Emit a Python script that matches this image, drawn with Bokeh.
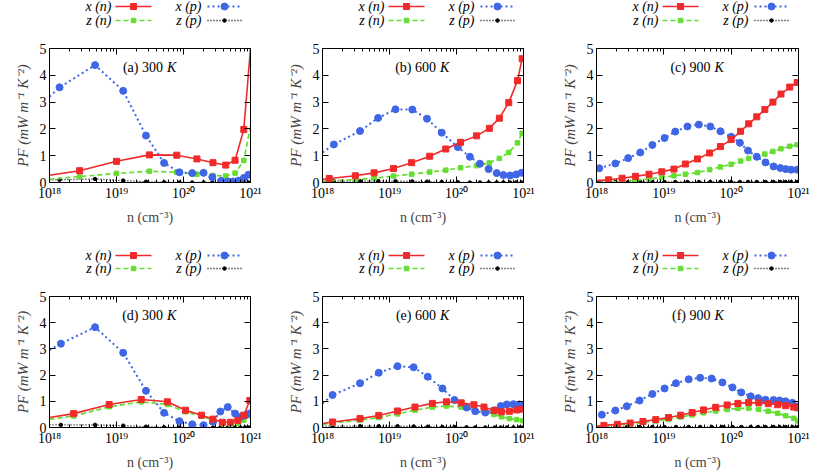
from bokeh.plotting import figure
from bokeh.models import Range1d, FixedTicker, CustomJSTickFormatter, LogAxis, LinearAxis, Label
from bokeh.layouts import column, row
from bokeh.core.properties import value
from bokeh.embed import file_html
from bokeh.resources import INLINE

FONT = "Liberation Serif"
RED = "#f02a2a"
GREEN = "#66dd33"
BLUE = "#3f66e6"
BLACK = "#000000"

# ---------------- data (log10 of n in cm^-3, PF in mW m^-1 K^-2) ----------------
legend_labels = ["x (n)", "z (n)", "x (p)", "z (p)"]
panel_titles = ["(a) 300", "(b) 600", "(c) 900", "(d) 300", "(e) 600", "(f) 900"]
x_ticks = [1e18, 1e19, 1e20, 1e21]
y_ticks = [0, 1, 2, 3, 4, 5]

# (a) 300 K
a_n_logn = [18.0, 18.45, 19.0, 19.49, 19.9, 20.2, 20.44, 20.63, 20.77, 20.9, 21.0]
a_xn = [0.27, 0.44, 0.79, 1.03, 1.02, 0.88, 0.74, 0.65, 0.83, 1.98, 5.0]
a_zn = [0.12, 0.22, 0.34, 0.42, 0.38, 0.31, 0.26, 0.24, 0.35, 0.82, 2.1]
a_p_logn = [18.0, 18.15, 18.68, 19.1, 19.44, 19.71, 19.94, 20.13, 20.3, 20.43, 20.56, 20.66, 20.74, 20.82, 20.9, 20.97]
a_xp = [3.2, 3.55, 4.38, 3.42, 1.75, 0.73, 0.38, 0.35, 0.36, 0.2, 0.06, 0.04, 0.04, 0.07, 0.17, 0.29]
a_zp = [0.1, 0.1, 0.13, 0.07, 0.03, 0.01, 0.0, 0.0, 0.0, 0.0, 0.0, 0.0, 0.0, 0.0, 0.0, 0.0]

# (b) 600 K
b_n_logn = [18.0, 18.1, 18.49, 18.77, 19.06, 19.33, 19.6, 19.84, 20.06, 20.3, 20.49, 20.64, 20.78, 20.91, 20.98]
b_xn = [0.12, 0.15, 0.25, 0.36, 0.52, 0.74, 0.98, 1.25, 1.5, 1.74, 2.02, 2.4, 2.98, 3.8, 4.62]
b_zn = [0.05, 0.07, 0.1, 0.16, 0.24, 0.31, 0.39, 0.46, 0.55, 0.63, 0.73, 0.9, 1.12, 1.48, 1.84]
b_p_logn = [18.0, 18.17, 18.56, 18.83, 19.09, 19.34, 19.56, 19.78, 20.02, 20.2, 20.35, 20.48, 20.6, 20.7, 20.8, 20.89, 20.97]
b_xp = [1.12, 1.42, 1.92, 2.41, 2.73, 2.72, 2.38, 1.86, 1.32, 0.96, 0.7, 0.5, 0.35, 0.28, 0.26, 0.3, 0.36]
b_zp = [0.05, 0.05, 0.05, 0.05, 0.05, 0.04, 0.03, 0.02, 0.01, 0.0, 0.0, 0.0, 0.0, 0.0, 0.0, 0.0, 0.0]

# (c) 900 K
c_n_logn = [18.0, 18.18, 18.38, 18.58, 18.78, 18.97, 19.15, 19.32, 19.5, 19.68, 19.84, 20.0, 20.14, 20.26, 20.38, 20.5, 20.62, 20.74, 20.87, 20.98]
c_xn = [0.07, 0.1, 0.16, 0.23, 0.31, 0.4, 0.5, 0.69, 0.88, 1.1, 1.34, 1.6, 1.91, 2.19, 2.45, 2.72, 3.0, 3.3, 3.56, 3.73]
c_zn = [0.0, 0.02, 0.04, 0.08, 0.14, 0.19, 0.25, 0.31, 0.37, 0.48, 0.58, 0.68, 0.8, 0.9, 0.98, 1.06, 1.16, 1.26, 1.35, 1.41]
c_p_logn = [18.04, 18.28, 18.47, 18.65, 18.83, 19.01, 19.17, 19.35, 19.52, 19.69, 19.84, 20.0, 20.13, 20.25, 20.38, 20.51, 20.63, 20.73, 20.81, 20.89, 20.98]
c_xp = [0.53, 0.71, 0.91, 1.12, 1.4, 1.66, 1.9, 2.09, 2.16, 2.09, 1.91, 1.71, 1.48, 1.19, 0.96, 0.75, 0.6, 0.54, 0.5, 0.48, 0.48]
c_zp = [0.02, 0.02, 0.02, 0.02, 0.02, 0.02, 0.02, 0.02, 0.02, 0.02, 0.02, 0.02, 0.02, 0.02, 0.02, 0.02, 0.02, 0.02, 0.02, 0.02, 0.02]

# (d) 300 K
d_n_logn = [18.0, 18.36, 18.89, 19.37, 19.76, 20.03, 20.27, 20.44, 20.58, 20.7, 20.81, 20.9, 20.99]
d_xn = [0.38, 0.53, 0.88, 1.07, 0.98, 0.66, 0.47, 0.32, 0.2, 0.2, 0.27, 0.47, 1.03]
d_zn = [0.31, 0.44, 0.79, 0.98, 0.88, 0.6, 0.43, 0.28, 0.15, 0.13, 0.15, 0.28, 0.46]
d_p_logn = [18.0, 18.17, 18.68, 19.1, 19.44, 19.71, 19.94, 20.13, 20.3, 20.44, 20.55, 20.66, 20.77, 20.85, 20.92, 20.98]
d_xp = [2.95, 3.2, 3.83, 2.85, 1.4, 0.56, 0.24, 0.12, 0.09, 0.22, 0.61, 0.78, 0.53, 0.4, 0.46, 0.53]
d_zp = [0.1, 0.1, 0.1, 0.07, 0.03, 0.01, 0.0, 0.0, 0.0, 0.0, 0.0, 0.0, 0.0, 0.0, 0.0, 0.0]

# (e) 600 K
e_n_logn = [18.0, 18.15, 18.56, 18.84, 19.12, 19.38, 19.64, 19.85, 20.07, 20.26, 20.41, 20.56, 20.67, 20.79, 20.9, 20.99]
e_xn = [0.15, 0.21, 0.34, 0.46, 0.63, 0.78, 0.92, 0.98, 0.94, 0.87, 0.78, 0.65, 0.6, 0.62, 0.67, 0.7]
e_zn = [0.12, 0.17, 0.28, 0.38, 0.52, 0.66, 0.78, 0.82, 0.78, 0.72, 0.62, 0.5, 0.41, 0.34, 0.3, 0.26]
e_p_logn = [18.0, 18.15, 18.56, 18.84, 19.12, 19.36, 19.57, 19.79, 19.97, 20.15, 20.28, 20.43, 20.57, 20.66, 20.75, 20.85, 20.94, 20.99]
e_xp = [0.92, 1.24, 1.69, 2.09, 2.34, 2.3, 1.94, 1.49, 1.05, 0.76, 0.62, 0.57, 0.66, 0.82, 0.88, 0.89, 0.88, 0.85]
e_zp = [0.05, 0.05, 0.05, 0.05, 0.05, 0.04, 0.03, 0.02, 0.02, 0.01, 0.0, 0.0, 0.0, 0.0, 0.0, 0.0, 0.0, 0.0]

# (f) 900 K
f_n_logn = [18.0, 18.11, 18.31, 18.5, 18.69, 18.88, 19.07, 19.25, 19.42, 19.59, 19.77, 19.94, 20.1, 20.26, 20.41, 20.55, 20.69, 20.81, 20.93, 20.99]
f_xn = [0.05, 0.08, 0.12, 0.17, 0.23, 0.3, 0.38, 0.47, 0.57, 0.67, 0.77, 0.86, 0.92, 0.95, 0.94, 0.91, 0.87, 0.83, 0.78, 0.75]
f_zn = [0.03, 0.05, 0.09, 0.13, 0.19, 0.25, 0.32, 0.4, 0.48, 0.56, 0.63, 0.69, 0.73, 0.73, 0.69, 0.62, 0.54, 0.45, 0.35, 0.25]
f_p_logn = [18.08, 18.28, 18.45, 18.64, 18.83, 19.01, 19.18, 19.37, 19.54, 19.71, 19.87, 20.02, 20.15, 20.29, 20.4, 20.51, 20.63, 20.72, 20.81, 20.91, 20.99]
f_xp = [0.49, 0.65, 0.81, 1.03, 1.28, 1.49, 1.69, 1.84, 1.9, 1.87, 1.72, 1.53, 1.34, 1.19, 1.12, 1.06, 1.05, 1.03, 1.0, 0.94, 0.8]
f_zp = [0.02, 0.02, 0.02, 0.02, 0.02, 0.02, 0.02, 0.02, 0.02, 0.02, 0.02, 0.02, 0.02, 0.02, 0.02, 0.02, 0.02, 0.02, 0.02, 0.02, 0.02]

panels = [
    (a_n_logn, a_xn, a_zn, a_p_logn, a_xp, a_zp),
    (b_n_logn, b_xn, b_zn, b_p_logn, b_xp, b_zp),
    (c_n_logn, c_xn, c_zn, c_p_logn, c_xp, c_zp),
    (d_n_logn, d_xn, d_zn, d_p_logn, d_xp, d_zp),
    (e_n_logn, e_xn, e_zn, e_p_logn, e_xp, e_zp),
    (f_n_logn, f_xn, f_zn, f_p_logn, f_xp, f_zp),
]

# series styles: color, dash, line width, marker, marker size
STY = [
    (RED, "solid", 1.6, "square", 6),
    (GREEN, "5 3", 1.7, "square", 4.5),
    (BLUE, "2 3", 2.0, "circle", 7),
    (BLACK, "1 2", 1.3, "circle", 3.5),
]

minor = []
for d in (18, 19, 20):
    for k in range(2, 10):
        minor.append(k * 10.0 ** d)

SUP_CODE = """
const s = {'0':'\u2070','1':'\u00b9','2':'\u00b2','3':'\u00b3','4':'\u2074','5':'\u2075','6':'\u2076','7':'\u2077','8':'\u2078','9':'\u2079','-':'\u207b'};
const e = Math.round(Math.log10(tick));
return '10' + String(e).split('').map(c => s[c]).join('');
"""

# layout (pixels)
CELL_W = [273, 273, 265]
BL = [49, 49, 50]
BR = [23, 23, 13]
LEG_H = 30
LEG_ROWS = [[24, 10], [23, 10]]
MAIN_H = [218, 194]
BT = [18, 18]
BB = [66, 43]


def style_axis(ax, labels=True):
    ax.axis_line_color = "black"
    ax.axis_line_width = 1
    ax.major_tick_in = 6
    ax.major_tick_out = 0
    ax.minor_tick_in = 3
    ax.minor_tick_out = 0
    ax.major_tick_line_color = "black"
    ax.minor_tick_line_color = "black"
    ax.major_label_text_font = FONT
    ax.major_label_text_color = "black"
    ax.major_label_standoff = 3
    if labels:
        ax.major_label_text_font_size = "14px"
    else:
        ax.major_label_text_font_size = "0px"


def make_panel(idx):
    col = idx % 3
    r = idx // 3
    p = figure(width=CELL_W[col], height=MAIN_H[r], x_axis_type="log",
               x_range=Range1d(1e18, 1e21), y_range=Range1d(0, 5),
               toolbar_location=None, output_backend="svg",
               min_border_left=BL[col], min_border_right=BR[col],
               min_border_top=BT[r], min_border_bottom=BB[r])
    p.grid.visible = False
    p.outline_line_color = "black"
    p.outline_line_width = 1
    p.background_fill_color = "white"
    p.border_fill_color = "white"

    xt = FixedTicker(ticks=x_ticks, minor_ticks=minor)
    yt = FixedTicker(ticks=y_ticks, minor_ticks=[])
    p.xaxis.ticker = xt
    p.xaxis.formatter = CustomJSTickFormatter(code=SUP_CODE)
    p.yaxis.ticker = yt
    style_axis(p.xaxis[0])
    style_axis(p.yaxis[0])
    p.xaxis.axis_label = "n (cm\u207b\u00b3)"
    p.xaxis.axis_label_text_font = FONT
    p.xaxis.axis_label_text_font_size = "14px"
    p.xaxis.axis_label_text_font_style = "normal"
    p.xaxis.axis_label_standoff = 6
    p.yaxis.axis_label = "PF (mW m\u207b\u00b9 K\u207b\u00b2)"
    p.yaxis.axis_label_text_font = FONT
    p.yaxis.axis_label_text_font_size = "15px"
    p.yaxis.axis_label_text_font_style = "italic"
    p.yaxis.axis_label_standoff = 6

    top = LogAxis(ticker=xt, formatter=CustomJSTickFormatter(code="return '';"))
    style_axis(top, labels=False)
    p.add_layout(top, "above")
    right = LinearAxis(ticker=yt, formatter=CustomJSTickFormatter(code="return '';"))
    style_axis(right, labels=False)
    p.add_layout(right, "right")

    n_logn, xn, zn, p_logn, xp, zp = panels[idx]
    series = [(n_logn, xn), (n_logn, zn), (p_logn, xp), (p_logn, zp)]
    # draw in order z(p), z(n), x(p), x(n) so red sits on top
    for si in (3, 1, 2, 0):
        logn, ys = series[si]
        color, dash, lw, mk, ms = STY[si]
        xs = [10.0 ** v for v in logn]
        p.line(xs, ys, line_color=color, line_dash=dash, line_width=lw)
        mx = [x for x, v in zip(xs, logn) if 18.0 < v < 21.0]
        my = [y for y, v in zip(ys, logn) if 18.0 < v < 21.0]
        p.scatter(mx, my, marker=mk, size=ms, fill_color=color, line_color=color)

    p.add_layout(Label(x=10 ** 19.5, y=5, x_offset=13, y_offset=-19, text=panel_titles[idx],
                       text_align="right", text_baseline="middle", text_font=FONT,
                       text_font_size="14px", text_color="black"))
    p.add_layout(Label(x=10 ** 19.5, y=5, x_offset=17, y_offset=-19, text="K",
                       text_align="left", text_baseline="middle", text_font=FONT,
                       text_font_style="italic", text_font_size="14px", text_color="black"))
    return p


def make_legend(col, r):
    w = CELL_W[col]
    fl = BL[col]
    f = figure(width=w, height=LEG_H, x_range=Range1d(0, w), y_range=Range1d(0, LEG_H),
               x_axis_type=None, y_axis_type=None, toolbar_location=None,
               output_backend="svg", min_border=0)
    f.outline_line_color = None
    f.grid.visible = False
    text_right = [fl + 62, fl + 152]
    line_x0 = [fl + 66, fl + 158]
    line_x1 = [fl + 102, fl + 192]
    row_y = LEG_ROWS[r]
    pos = [(0, 0), (0, 1), (1, 0), (1, 1)]
    for i, lab in enumerate(legend_labels):
        c, rr = pos[i]
        color, dash, lw, mk, ms = STY[i]
        y = row_y[rr]
        f.segment(x0=[line_x0[c]], y0=[y], x1=[line_x1[c]], y1=[y],
                  line_color=color, line_dash=dash, line_width=lw)
        f.scatter([(line_x0[c] + line_x1[c]) / 2], [y], marker=mk, size=ms,
                  fill_color=color, line_color=color)
        f.text(x=[text_right[c]], y=[y], text=[lab], text_align="right",
               text_baseline="middle", text_font=value(FONT), text_font_style="italic",
               text_font_size="14px", text_color="black")
    return f


figs = [make_panel(i) for i in range(6)]
legs_top = [make_legend(c, 0) for c in range(3)]
legs_bot = [make_legend(c, 1) for c in range(3)]

layout = column(
    row(*legs_top, spacing=0),
    row(*figs[0:3], spacing=0),
    row(*legs_bot, spacing=0),
    row(*figs[3:6], spacing=0),
    spacing=0,
)

open("out.html", "w").write(file_html(layout, INLINE))
